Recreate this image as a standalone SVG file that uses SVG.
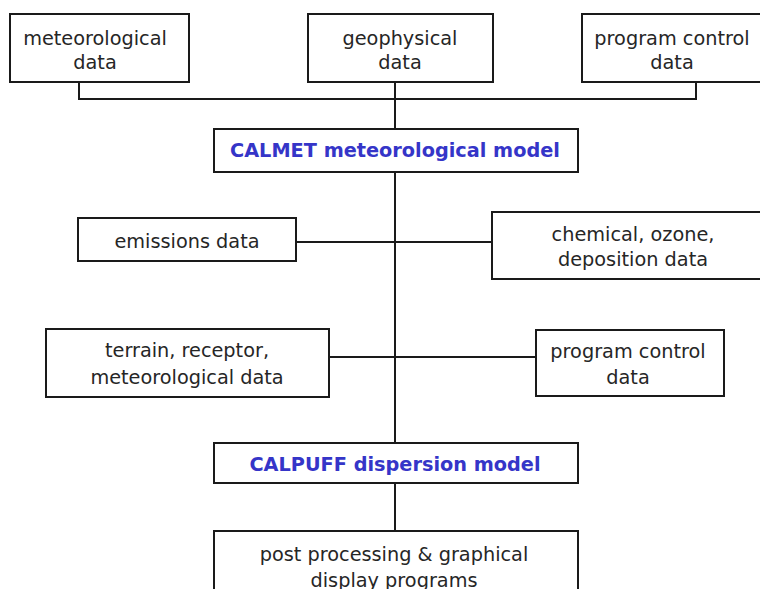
<svg xmlns="http://www.w3.org/2000/svg" width="760" height="589" viewBox="0 0 760 589">
<style>
.box{fill:#fff;stroke:#1a1a1a;stroke-width:2}
.t{font-family:"DejaVu Sans",Verdana,sans-serif;font-size:19.3px;fill:#262626;text-anchor:middle}
.m{font-family:"DejaVu Sans",Verdana,sans-serif;font-size:19.3px;font-weight:bold;fill:#3535c8;text-anchor:middle}
.c{fill:none;stroke:#1a1a1a;stroke-width:2}
</style>
<rect width="760" height="589" fill="#fff"/>
<g id="connectors">
<path class="c" d="M79,82 V99 H696 V82"/>
<path class="c" d="M395,82 V531"/>
<path class="c" d="M296,242 H492"/>
<path class="c" d="M329,357 H536"/>
</g>
<g id="meteorological-data">
<rect class="box" x="10" y="14" width="179" height="68"/>
<text class="t" x="95" y="45">meteorological</text>
<text class="t" x="95" y="69">data</text>
</g>
<g id="geophysical-data">
<rect class="box" x="308" y="14" width="185" height="68"/>
<text class="t" x="400" y="45">geophysical</text>
<text class="t" x="400" y="69">data</text>
</g>
<g id="program-control-data-1">
<rect class="box" x="582" y="14" width="180" height="68"/>
<text class="t" x="672" y="45">program control</text>
<text class="t" x="672" y="69">data</text>
</g>
<g id="calmet">
<rect class="box" x="214" y="129" width="364" height="43"/>
<text class="m" x="395" y="157">CALMET meteorological model</text>
</g>
<g id="emissions-data">
<rect class="box" x="78" y="218" width="218" height="43"/>
<text class="t" x="187" y="248">emissions data</text>
</g>
<g id="chemical-data">
<rect class="box" x="492" y="212" width="270" height="67"/>
<text class="t" x="633" y="241">chemical, ozone,</text>
<text class="t" x="633" y="266">deposition data</text>
</g>
<g id="terrain-data">
<rect class="box" x="46" y="329" width="283" height="68"/>
<text class="t" x="187" y="357">terrain, receptor,</text>
<text class="t" x="187" y="384">meteorological data</text>
</g>
<g id="program-control-data-2">
<rect class="box" x="536" y="330" width="188" height="66"/>
<text class="t" x="628" y="358">program control</text>
<text class="t" x="628" y="384">data</text>
</g>
<g id="calpuff">
<rect class="box" x="214" y="443" width="364" height="40"/>
<text class="m" x="395" y="471">CALPUFF dispersion model</text>
</g>
<g id="post-processing">
<rect class="box" x="214" y="531" width="364" height="70"/>
<text class="t" x="394" y="561">post processing &amp; graphical</text>
<text class="t" x="394" y="587">display programs</text>
</g>
</svg>
